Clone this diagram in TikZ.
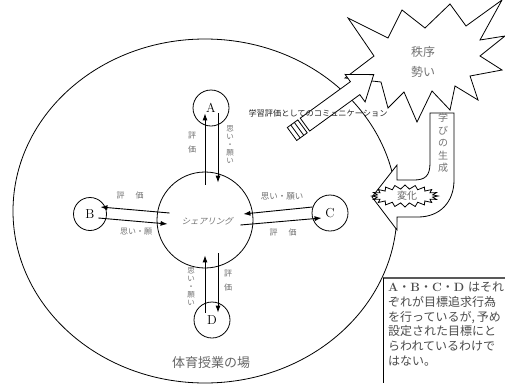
\documentclass[tikz,border=0pt]{standalone}
\usepackage{fontspec}
\newfontfamily\jp{Noto Sans CJK JP}
\newfontfamily\jpsl[FakeSlant=0.25]{Noto Sans CJK JP}
\newcommand\tightlines{\lineskiplimit=-5pt\relax}
\usetikzlibrary{arrows.meta}
\begin{document}
\begin{tikzpicture}[x=1pt,y=-1pt,
  every node/.style={inner sep=0pt},
  conn/.style={line width=0.9pt,-{Latex[length=7pt,width=5pt]}},
  party/.style={circle,draw,line width=0.8pt,minimum size=36pt,font=\fontsize{13}{13}\selectfont},
  hlbl/.style={text=black!55,font=\jp\fontsize{8}{8}\selectfont},
  vlbl/.style={text=black!55,align=center,font={\jp\fontsize{7.5}{8}\selectfont\tightlines}},
  vlblw/.style={text=black!55,align=center,font={\jp\fontsize{8}{14}\selectfont\tightlines}},
  shape line/.style={draw,fill=white,line width=0.8pt,line join=miter},
]
\useasboundingbox (0,0) rectangle (505,383);
\fill[white] (0,0) rectangle (505,383);

% field
\draw[line width=0.8pt] (205,211) ellipse [x radius=192pt,y radius=172pt];

% star
\path[shape line] (348,18) -- (388,38) -- (402,10) -- (425,28) -- (450,4) -- (466,26)
  -- (502,0) -- (480,40) -- (505,36) -- (480,56) -- (502,70) -- (470,76) -- (478,100)
  -- (455,86) -- (450,110) -- (432,91) -- (417,122) -- (404,92) -- (388,108) -- (381,82)
  -- (345,78) -- (374,56) -- cycle;
\node[text=black!55,font={\jp\fontsize{12}{20}\selectfont},align=center] (order) at (423,62) {秩序\\勢い};

% communication arrow
\begin{scope}[shift={(292,134)},rotate=36]
  \path[shape line] (16,-8) -- (78,-8) -- (78,-17) -- (101,0) -- (78,17) -- (78,8) -- (16,8) -- cycle;
  \path[shape line] (0,-8) rectangle (13,8);
  \draw[line width=0.8pt] (4.3,-8) -- (4.3,8) (8.7,-8) -- (8.7,8);
\end{scope}
\node[font={\jp\fontsize{8.2}{8.2}\selectfont},text=black!85] (comm) at (318,113) {学習評価としてのコミュニケーション};

% learning U-arrow
\path[shape line] (430,113) -- (430,163) .. controls (430,176) and (425,180) .. (414,180)
  -- (397,180) -- (397,165) -- (372,197) -- (397,230) -- (397,217) -- (418,217)
  .. controls (440,217) and (454,202) .. (454,180) -- (454,113) -- cycle;
\node[text=black!55,align=center,font={\jp\fontsize{10}{12.5}\selectfont\tightlines}] (gen) at (443,143) {学\\び\\の\\生\\成};
\path[shape line] plot[variable=\t,samples at={0,...,39}]
  ({405+(33-5*mod(\t,2))*cos(\t*9)},{196+(11-4*mod(\t,2))*sin(\t*9)}) -- cycle;
\node[text=black!60,font={\jp\fontsize{10}{10}\selectfont}] (change) at (407,196) {変化};

% sharing and parties
\node[circle,draw,line width=0.8pt,minimum size=96pt] (S) at (205,220) {};
\node[text=black!55,font={\jpsl\fontsize{8.5}{8.5}\selectfont}] (Slbl) at (207,221) {シェアリング};
\node[party] (A) at (211,108) {A};
\node[party,minimum size=33pt] (B) at (90,214) {B};
\node[party] (C) at (330,213) {C};
\node[party] (D) at (212,320) {D};

% A
\draw[conn] ([yshift=-13pt]S.north) -- ([xshift=-6pt,yshift=13pt]A.south);
\draw[conn] ([xshift=7pt,yshift=13pt]A.south) -- ([xshift=13pt,yshift=-11pt]S.north);
\node[vlblw] (a1) at (192,143) {評\\価};
\node[vlbl] (a2) at (230,145) {思\\い\\・\\願\\い};
% D
\draw[conn] ([xshift=-7pt,yshift=-11pt]D.north) -- ([yshift=13pt]S.south);
\draw[conn] ([xshift=13pt,yshift=15pt]S.south) -- ([xshift=6pt,yshift=-11pt]D.north);
\node[vlbl] (d1) at (191,287) {思\\い\\・\\願\\い};
\node[vlblw] (d2) at (228,281) {評\\価};
% B
\draw[conn] ([xshift=13pt,yshift=7pt]S.west) -- ([xshift=-6.5pt,yshift=7pt]B.east);
\draw[conn] ([xshift=-8.5pt,yshift=-4pt]B.east) -- ([xshift=11pt,yshift=-4pt]S.west);
\node[hlbl] (b1) at (130,195) {評\hspace{11pt}価};
\node[hlbl] (b2) at (136,232) {思い・願};
% C
\draw[conn] ([xshift=1pt,yshift=6pt]C.west) -- ([xshift=-10pt,yshift=6pt]S.east);
\draw[conn] ([xshift=-13pt,yshift=-5pt]S.east) -- ([xshift=10pt,yshift=-5pt]C.west);
\node[hlbl,font={\jp\fontsize{8.5}{8.5}\selectfont}] (c1) at (282,196) {思い・願い};
\node[hlbl] (c2) at (283,232) {評\hspace{11pt}価};

\node[text=black!60,font={\jp\fontsize{13}{13}\selectfont}] (field) at (211,363) {体育授業の場};

% note box
\draw[line width=1.6pt,black!65] (383,278) -- (505,278);
\draw[line width=0.8pt] (383,278) -- (383,383);
\node[anchor=north west,align=left,text=black!70,font={\jp\fontsize{12}{14.7}\selectfont\tightlines}] (note) at (388,282)
{{\rmfamily\bfseries A}・{\rmfamily\bfseries B}・{\rmfamily\bfseries C}・{\rmfamily\bfseries D}\hspace{4pt}はそれ\\
ぞれが目標追求行為\\
を行っているが,\hspace{2pt}予め\\
設定された目標にと\\
らわれているわけで\\
はない。};
\end{tikzpicture}
\end{document}
